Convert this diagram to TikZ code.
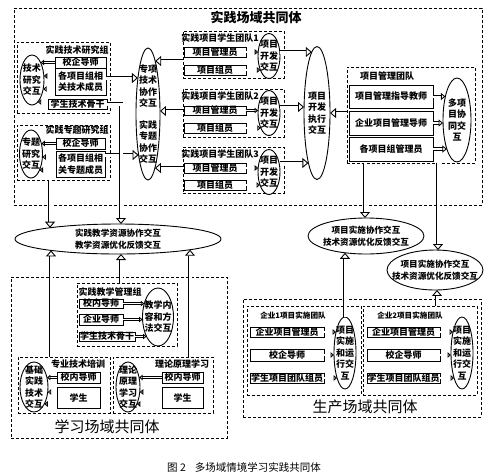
\documentclass[tikz,border=0pt]{standalone}
\usepackage{fontspec}
\setmainfont{Noto Sans CJK SC}
\usetikzlibrary{shapes.geometric,arrows.meta,calc}
\newcommand\grpbox[5]{\node[grp, minimum width={(#4)-(#2)}, minimum height={(#5)-(#3)}] (#1) at ({((#2)+(#4))/2},{((#3)+(#5))/2}) {};}
\newcommand\bxat[6]{\node[bx, minimum width={(#4)-(#2)}, minimum height={(#5)-(#3)}] (#1) at ({((#2)+(#4))/2},{((#3)+(#5))/2}) {#6};}
\newcommand\elat[6]{\node[el, minimum width=#4, minimum height=#5] (#1) at (#2,#3) {};\node[eltext] at (#1.center) {#6};}
% horizontal connector from #2 to the border of ellipse #3 on its side #4
\newcommand\toell[4][sm]{\draw[#1] let \p1=(#2), \p2=(#3.center), \p3=(#3.#4), \p4=(#3.north), \n2={sqrt(max(0,1-((\y1-\y2)/(\y4-\y2))^2))} in (\p1) -- ({\x2+\n2*(\x3-\x2)},\y1);}
% vertical connector from #2 to the border of ellipse #3 on its side #4
\newcommand\toellv[4][big]{\draw[#1] let \p1=(#2), \p2=(#3.center), \p3=(#3.#4), \p4=(#3.east), \n2={sqrt(max(0,1-((\x1-\x2)/(\x4-\x2))^2))} in (\p1) -- (\x1,{\y2+\n2*(\y3-\y2)});}
\begin{document}
\begin{tikzpicture}[x=1pt,y=-1pt,
  font=\fontsize{9}{11.5}\selectfont\bfseries,
  grp/.style={draw, line width=0.8pt, dash pattern=on 3pt off 2pt, inner sep=0pt, outer sep=0pt},
  bx/.style={draw, line width=1pt, fill=white, inner sep=0pt, outer sep=0pt, align=center},
  el/.style={draw, ellipse, line width=0.9pt, fill=white, inner sep=0pt, outer sep=0pt},
  eltext/.style={align=center, inner sep=0pt},
  wtext/.style={align=center, inner sep=0pt, font=\fontsize{8.6}{12}\selectfont\bfseries},
  lbl/.style={inner sep=0pt},
  slbl/.style={inner sep=0pt, font=\fontsize{7.6}{9}\selectfont\bfseries},
  big/.style={double, line width=0.9pt, double distance=3pt, -{Triangle[open,length=6pt,width=10pt]}},
  md/.style={double, line width=0.85pt, double distance=2pt, -{Triangle[open,length=4.5pt,width=7pt]}},
  sm/.style={double, line width=0.85pt, double distance=1.2pt, -{Triangle[open,length=3.5pt,width=5.5pt]}},
  ttl/.style={inner sep=0pt, font=\fontsize{13}{13}\selectfont\bfseries},
  ttlb/.style={inner sep=0pt, font=\fontsize{15}{15}\selectfont}
]
\useasboundingbox (0,0) rectangle (498,475);

% ===== practice community =====
\grpbox{TOP}{14}{8}{482}{205}
\node[ttl] (tt) at (256,17) {实践场域共同体};

% technical research group
\grpbox{G1}{17}{42}{110}{113}
\node[lbl] (g1l) at (77,50) {实践技术研究组};
\elat{E1}{32}{80}{24}{50}{技术\\研究\\交互}
\bxat{B1a}{55}{57}{106}{68}{校企导师}
\bxat{B1b}{55}{68}{106}{95}{各项目组相\\关技术成员}
\bxat{B1c}{48}{99}{107}{109}{学生技术骨干}

% topic research group
\grpbox{G2}{17}{125}{110}{180}
\node[lbl] (g2l) at (77,130) {实践专题研究组};
\elat{E2}{31}{154}{23}{48}{专题\\研究\\交互}
\bxat{B2a}{56}{138}{105}{149}{校企导师}
\bxat{B2b}{56}{151}{105}{177}{各项目组相\\关专题成员}

\elat{ZX}{148}{114}{24}{132}{专项\\技术\\协作\\交互\\[10pt]实践\\专题\\协作\\交互}

% student teams
\grpbox{T1}{183}{31}{284}{78}
\node[lbl] (t1l) at (220,38) {实践项目学生团队1};
\bxat{T1a}{184}{47}{246}{57}{项目管理员}
\bxat{T1b}{184}{65}{246}{75}{项目组员}
\elat{TE1}{269}{56}{22}{45}{项目\\开发\\交互}

\grpbox{T2}{183}{89}{284}{137}
\node[lbl] (t2l) at (220,96) {实践项目学生团队2};
\bxat{T2a}{184}{106}{246}{115}{项目管理员}
\bxat{T2b}{184}{123}{246}{133}{项目组员}
\elat{TE2}{269}{113}{22}{45}{项目\\开发\\交互}

\grpbox{T3}{183}{147}{284}{193}
\node[lbl] (t3l) at (220,154) {实践项目学生团队3};
\bxat{T3a}{184}{163}{246}{173}{项目管理员}
\bxat{T3b}{184}{180}{246}{190}{项目组员}
\elat{TE3}{269}{172}{22}{45}{项目\\开发\\交互}

\elat{XK}{317}{113}{26}{133}{项目\\开发\\执行\\交互}

% project management team
\grpbox{PM}{347}{67}{475}{163}
\node[lbl] (pml) at (387,76) {项目管理团队};
\bxat{P1}{349}{85}{433}{108}{项目管理指导教师}
\bxat{P2}{349}{111}{433}{135}{企业项目管理导师}
\bxat{P3}{349}{137}{433}{161}{各项目组管理员}
\elat{ME}{457}{120}{28}{84}{多项\\目协\\同交\\互}

% ===== middle ellipses =====
\node[el, minimum width=206, minimum height=30] (BE) at (118,239) {};
\node[wtext] (bet) at (BE.center) {实践教学资源协作交互\\教学资源优化反馈交互};
\node[el, minimum width=116, minimum height=36] (IE1) at (366,236) {};
\node[wtext] (ie1t) at (IE1.center) {项目实施协作交互\\技术资源优化反馈交互};
\node[el, minimum width=96, minimum height=40] (IE2) at (435,270) {};
\node[wtext] (ie2t) at (IE2.center) {项目实施协作交互\\技术资源优化反馈交互};

% ===== learning community =====
\grpbox{LC}{11}{277}{227}{438}
\node[ttlb] (lct) at (107,427) {学习场域共同体};

\grpbox{MG}{77}{283}{177}{346}
\node[lbl] (mgl) at (110,292) {实践教学管理组};
\bxat{M1}{79}{299}{123}{308}{校内导师}
\bxat{M2}{79}{314}{123}{325}{企业导师}
\bxat{M3}{79}{332}{135}{341}{学生技术骨干}
\elat{ME2}{158}{317}{31}{58}{教学内\\容和方\\法交互}

\grpbox{TT}{18}{357}{110}{413}
\node[lbl] (ttl) at (78,364) {专业技术培训};
\elat{TE}{34}{387}{28}{50}{基础\\实践\\技术\\交互}
\bxat{TB1}{57}{372}{100}{383}{校内导师}
\bxat{TB2}{57}{387}{100}{408}{学生}

\grpbox{LT}{113}{357}{213}{413}
\node[lbl] (ltl) at (182,364) {理论原理学习};
\elat{LE}{128}{387}{24}{50}{理论\\原理\\学习\\交互}
\bxat{LB1}{162}{372}{203}{383}{校内导师}
\bxat{LB2}{162}{387}{203}{408}{学生}

% ===== production community =====
\grpbox{PC}{243}{299}{481}{417}
\node[ttlb] (pct) at (365,407) {生产场域共同体};

\grpbox{PT1}{247}{306}{361}{395}
\node[slbl] (pt1l) at (293,316) {企业1项目实施团队};
\bxat{PB1}{250}{327}{324}{337}{企业项目管理员}
\bxat{PB2}{250}{349}{324}{361}{校企导师}
\bxat{PB3}{250}{373}{324}{383}{学生项目团队组员}
\elat{PE1}{345}{353}{22}{72}{项目\\实施\\和运\\行交\\互}

\grpbox{PT2}{363}{306}{477}{395}
\node[slbl] (pt2l) at (410,316) {企业2项目实施团队};
\bxat{QB1}{367}{327}{440}{337}{企业项目管理员}
\bxat{QB2}{367}{349}{440}{361}{校企导师}
\bxat{QB3}{367}{373}{440}{383}{学生项目团队组员}
\elat{PE2}{462}{353}{22}{72}{项目\\实施\\和运\\行交\\互}

\node[font=\fontsize{10.5}{10.5}\selectfont] (cap) at (244,467) {图 2\hspace{9pt}多场域情境学习实践共同体};

% ===== connectors =====
\toell{B1a.west}{E1}{east}
\toell{B1b.west |- 0,76}{E1}{east}
\toell{B1b.west |- 0,89}{E1}{east}
\toell{B1c.west |- 0,102}{E1}{east}
\toell{B2a.west}{E2}{east}
\toell{B2b.west |- 0,157}{E2}{east}
\toell{B2b.west |- 0,170}{E2}{east}
\toell[big]{B1b.east |- 0,78}{ZX}{west}
\toell[big]{B2b.east |- 0,155}{ZX}{west}
\coordinate (k1) at (121,104);
\draw[big] let \p1=(k1), \p2=(BE.center), \p3=(BE.north), \p4=(BE.east), \n2={sqrt(max(0,1-((\x1-\x2)/(\x4-\x2))^2))} in (B1c.east) -- (\p1) -- (\x1,{\y2+\n2*(\y3-\y2)});
\toellv{G2.south -| 50,0}{BE}{north}

\toell{T1a.east}{TE1}{west}
\toell{T1b.east}{TE1}{west}
\toell{T2a.east}{TE2}{west}
\toell{T2b.east}{TE2}{west}
\toell{T3a.east}{TE3}{west}
\toell{T3b.east}{TE3}{west}
\toell[big]{TE1.east |- 0,52}{XK}{west}
\toell[big]{TE2.east |- 0,107}{XK}{west}
\toell[big]{TE3.east |- 0,163}{XK}{west}
\toell[big]{T1.west |- 0,61}{ZX}{east}
\toell[big]{T2.west |- 0,111}{ZX}{east}
\toell[big]{T3.west |- 0,168}{ZX}{east}

\toell[md]{P1.east}{ME}{west}
\toell[md]{P2.east}{ME}{west}
\toell[md]{P3.east}{ME}{west}
\toell[big]{PM.west |- 0,113}{XK}{east}
\toellv{PM.south -| 365,0}{IE1}{north}
\toellv{PM.south -| 438,0}{IE2}{north}

\toell{M1.east}{ME2}{west}
\toell{M2.east}{ME2}{west}
\toell{M3.east}{ME2}{west}
\toellv{MG.north -| 121,0}{BE}{south}
\toellv{TT.north -| 51,0}{BE}{south}
\toellv{LT.north -| 190,0}{BE}{south}
\toell{TB1.west}{TE}{east}
\toell{TB2.west |- 0,392}{TE}{east}
\toell{TB2.west |- 0,404}{TE}{east}
\toell{LB1.west}{LE}{east}
\toell{LB2.west |- 0,392}{LE}{east}
\toell{LB2.west |- 0,404}{LE}{east}

\toell{PB1.east}{PE1}{west}
\toell{PB2.east}{PE1}{west}
\toell{PB3.east}{PE1}{west}
\toell{QB1.east}{PE2}{west}
\toell{QB2.east}{PE2}{west}
\toell{QB3.east}{PE2}{west}
\toellv{PE1.north}{IE1}{south}
\toellv{PT2.north -| 437,0}{IE2}{south}
\end{tikzpicture}
\end{document}
